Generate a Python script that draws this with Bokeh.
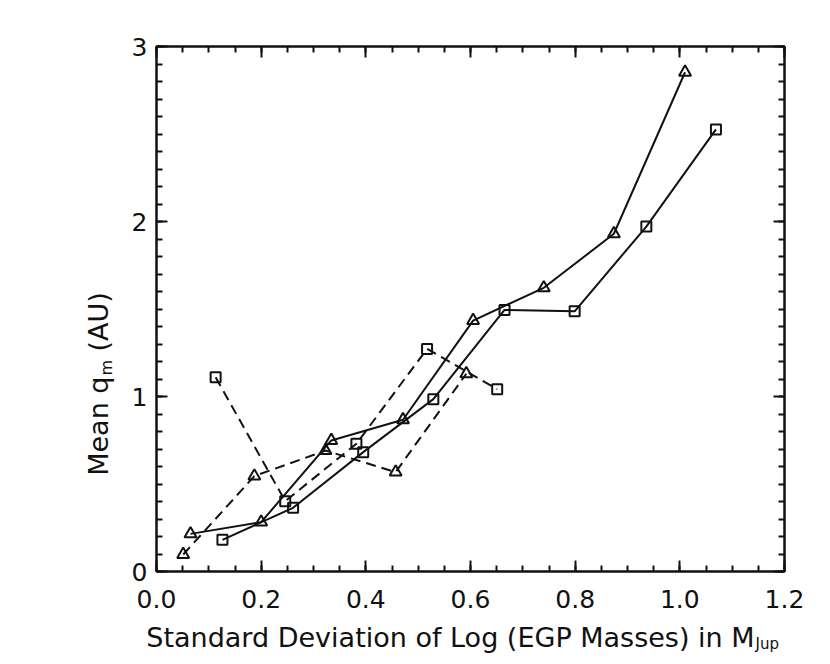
import math
from bokeh.plotting import figure
from bokeh.models import Label, LinearAxis, FixedTicker
from bokeh.embed import file_html
from bokeh.resources import INLINE

# ---- data ----
tri_solid_x = [0.065, 0.200, 0.334, 0.471, 0.605, 0.740, 0.874, 1.010]
tri_solid_y = [0.215, 0.282, 0.749, 0.867, 1.434, 1.621, 1.930, 2.853]

sq_solid_x = [0.126, 0.261, 0.395, 0.529, 0.665, 0.799, 0.936, 1.069]
sq_solid_y = [0.181, 0.364, 0.682, 0.985, 1.495, 1.487, 1.971, 2.526]

tri_dash_x = [0.051, 0.187, 0.323, 0.457, 0.592]
tri_dash_y = [0.097, 0.545, 0.691, 0.568, 1.130]

sq_dash_x = [0.113, 0.246, 0.382, 0.517, 0.651]
sq_dash_y = [1.110, 0.402, 0.730, 1.272, 1.042]

x_ticks = [0.0, 0.2, 0.4, 0.6, 0.8, 1.0, 1.2]
x_tick_labels = ["0.0", "0.2", "0.4", "0.6", "0.8", "1.0", "1.2"]
x_minor = [round(i * 0.05, 2) for i in range(0, 25)]
y_ticks = [0, 1, 2, 3]
y_tick_labels = ["0", "1", "2", "3"]
y_minor = [round(i * 0.1, 1) for i in range(0, 31)]

x_title = "Standard Deviation of Log (EGP Masses) in M"
x_title_sub = "Jup"
y_title_a = "Mean q"
y_title_sub = "m"
y_title_b = "(AU)"

FONT = "DejaVu Sans"
INK = "#111111"

p = figure(frame_width=628, frame_height=525,
           min_border_left=156, min_border_top=46,
           min_border_right=30, min_border_bottom=85,
           x_range=(0, 1.2), y_range=(0, 3),
           output_backend="svg", toolbar_location=None,
           x_axis_location=None, y_axis_location=None)
p.grid.visible = False
p.outline_line_color = INK
p.outline_line_width = 2
p.background_fill_color = "white"
p.border_fill_color = "white"

def style_axis(ax, ticks, minor, labels_map, show_labels):
    ax.ticker = FixedTicker(ticks=ticks, minor_ticks=minor)
    ax.axis_line_color = INK
    ax.axis_line_width = 2
    ax.major_tick_line_color = INK
    ax.minor_tick_line_color = INK
    ax.major_tick_line_width = 2
    ax.minor_tick_line_width = 2
    ax.major_tick_in = 11
    ax.major_tick_out = 0
    ax.minor_tick_in = 6
    ax.minor_tick_out = 0
    if show_labels:
        ax.major_label_overrides = labels_map
        ax.major_label_text_font = FONT
        ax.major_label_text_font_size = "25px"
        ax.major_label_text_color = INK
    else:
        ax.major_label_text_font_size = "0px"
        ax.major_label_text_alpha = 0

xmap = {t: l for t, l in zip(x_ticks, x_tick_labels)}
ymap = {t: l for t, l in zip(y_ticks, y_tick_labels)}

xb = LinearAxis(); style_axis(xb, x_ticks, x_minor, xmap, True)
xb.major_label_standoff = 18
xt = LinearAxis(); style_axis(xt, x_ticks, x_minor, xmap, False)
yl = LinearAxis(); style_axis(yl, y_ticks, y_minor, ymap, True)
yl.major_label_standoff = 9
yr = LinearAxis(); style_axis(yr, y_ticks, y_minor, ymap, False)
p.add_layout(xb, "below")
p.add_layout(xt, "above")
p.add_layout(yl, "left")
p.add_layout(yr, "right")

LW = 2
DASH = "10 6"
p.line(tri_solid_x, tri_solid_y, line_color=INK, line_width=LW)
p.line(sq_solid_x, sq_solid_y, line_color=INK, line_width=LW)
p.line(tri_dash_x, tri_dash_y, line_color=INK, line_width=LW, line_dash=DASH)
p.line(sq_dash_x, sq_dash_y, line_color=INK, line_width=LW, line_dash=DASH)

for xs, ys in [(tri_solid_x, tri_solid_y), (tri_dash_x, tri_dash_y)]:
    p.scatter(xs, ys, marker="triangle", size=12, fill_color="white",
              fill_alpha=0, line_color=INK, line_width=2)
for xs, ys in [(sq_solid_x, sq_solid_y), (sq_dash_x, sq_dash_y)]:
    p.scatter(xs, ys, marker="square", size=10, fill_color="white",
              fill_alpha=0, line_color=INK, line_width=2)

# axis titles (with subscripts) placed in the side panels so they are not clipped
p.add_layout(Label(x=1.2, y=0, x_offset=-30, y_offset=-66, text=x_title,
                   text_align="right", text_baseline="alphabetic",
                   text_font=FONT, text_font_size="27px", text_color=INK), "below")
p.add_layout(Label(x=1.2, y=0, x_offset=-29, y_offset=-72, text=x_title_sub,
                   text_align="left", text_baseline="alphabetic",
                   text_font=FONT, text_font_size="15px", text_color=INK), "below")

p.add_layout(Label(x=0, y=0, x_offset=-58, y_offset=195, text=y_title_a,
                   angle=math.pi / 2, text_align="right", text_baseline="alphabetic",
                   text_font=FONT, text_font_size="27px", text_color=INK), "left")
p.add_layout(Label(x=0, y=0, x_offset=-50, y_offset=196, text=y_title_sub,
                   angle=math.pi / 2, text_align="left", text_baseline="alphabetic",
                   text_font=FONT, text_font_size="16px", text_color=INK), "left")
p.add_layout(Label(x=0, y=0, x_offset=-58, y_offset=220, text=y_title_b,
                   angle=math.pi / 2, text_align="left", text_baseline="alphabetic",
                   text_font=FONT, text_font_size="27px", text_color=INK), "left")

open("out.html", "w").write(file_html(p, INLINE))
